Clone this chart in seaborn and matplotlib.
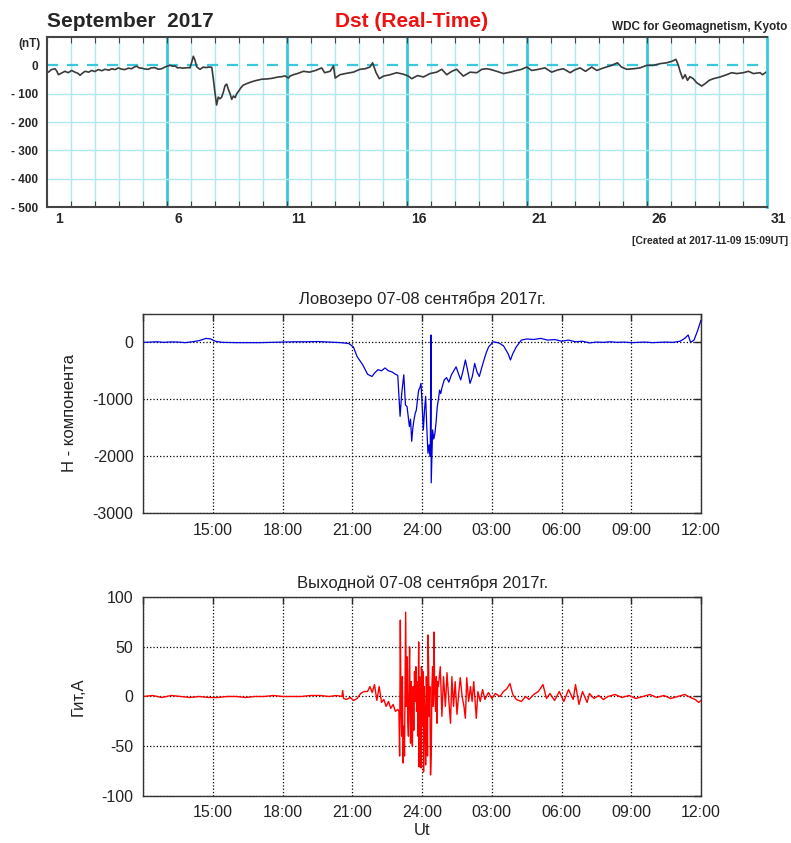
import seaborn as sns
import matplotlib.pyplot as plt
import matplotlib.transforms as mtransforms

# Dst (real-time), September 2017: time in days from Sep 1 00UT, value in nT
DST_DAY = [0.00, 0.07, 0.20, 0.35, 0.42, 0.49, 0.60, 0.76, 0.90, 1.04, 1.18, 1.30, 1.39,
           1.50, 1.60, 1.75, 1.88, 2.00, 2.15, 2.30, 2.43, 2.60, 2.71, 2.85, 2.99, 3.10,
           3.26, 3.40, 3.54, 3.65, 3.75, 3.85, 3.96, 4.10, 4.24, 4.35, 4.51, 4.65, 4.79,
           4.93, 5.05, 5.14, 5.25, 5.35, 5.45, 5.56, 5.66, 5.76, 5.90, 5.97, 6.04, 6.11,
           6.18, 6.25, 6.32, 6.39, 6.46, 6.53, 6.63, 6.74, 6.88, 6.94, 7.01, 7.08, 7.15,
           7.22, 7.29, 7.36, 7.43, 7.50, 7.57, 7.64, 7.71, 7.78, 7.85, 7.92, 7.99, 8.10,
           8.19, 8.35, 8.54, 8.75, 8.96, 9.17, 9.38, 9.65, 9.80, 9.93, 10.07, 10.14, 10.28,
           10.45, 10.70, 10.95, 11.20, 11.46, 11.58, 11.81, 11.95, 12.02, 12.22, 12.50,
           12.78, 13.05, 13.27, 13.47, 13.58, 13.72, 13.86, 14.03, 14.31, 14.58, 14.85,
           15.07, 15.21, 15.45, 15.70, 15.97, 16.25, 16.46, 16.67, 16.88, 17.08, 17.36,
           17.64, 17.92, 18.13, 18.33, 18.47, 18.75, 19.03, 19.31, 19.58, 19.79, 20.00,
           20.21, 20.49, 20.76, 21.04, 21.30, 21.53, 21.81, 22.00, 22.22, 22.45, 22.71,
           22.92, 23.20, 23.54, 23.78, 23.95, 24.17, 24.45, 24.72, 25.00, 25.28, 25.56,
           25.83, 26.04, 26.22, 26.32, 26.39, 26.50, 26.60, 26.70, 26.80, 26.94, 27.08,
           27.29, 27.43, 27.60, 27.78, 28.06, 28.33, 28.54, 28.75, 29.03, 29.24, 29.44,
           29.72, 29.83, 29.97]
DST_NT = [-25, -24, -15, -12, -20, -33, -28, -21, -26, -18, -24, -28, -35,
          -27, -21, -24, -18, -22, -15, -19, -14, -17, -12, -15, -9, -13,
          -15, -10, -12, -6, -3, -9, -10, -13, -14, -9, -8, -14, -12,
          -6, -2, 0, -3, -2, -9, -8, -10, -9, -8, -9, 10, 32,
          18, -5, -10, -14, -10, -6, -8, -6, -7, -45, -95, -140, -112,
          -118, -112, -95, -72, -66, -85, -100, -120, -108, -114, -100, -92, -78,
          -70, -64, -58, -53, -49, -48, -46, -41, -40, -37, -45, -38, -33,
          -29, -21, -24, -18, -9, -26, -21, -2, -45, -33, -28,
          -24, -14, -12, -6, 9, -25, -47, -38, -33, -26, -31,
          -38, -47, -36, -41, -29, -24, -14, -33, -21, -14, -38,
          -24, -26, -14, -12, -14, -21, -29, -24, -18, -14, -6,
          -18, -14, -9, -24, -16, -12, -26, -16, -9, -21, -6,
          -18, -9, 0, 9, -6, -14, -12, -9, 0, 0, 6,
          9, 14, 21, 0, -21, -47, -33, -53, -40, -47, -61,
          -73, -65, -53, -47, -41, -33, -26, -29, -26, -21, -29,
          -26, -33, -24]
DAY_LABELS = ["1", "6", "11", "16", "21", "26", "31"]
DAY_LABEL_POS = [0.5, 5.5, 10.5, 15.5, 20.5, 25.5, 30.5]

# Lovozero H-component, 07-08 Sept 2017 (hours from Sep 7 00UT)
LOV_HOUR = [12.00, 12.30, 12.60, 12.90, 13.20, 13.50, 13.80, 14.10, 14.40, 14.70, 14.90,
            15.10, 15.40, 16.00, 16.50, 17.00, 17.50, 18.00, 18.50, 19.00, 19.50, 20.00,
            20.50, 20.84, 21.04, 21.20, 21.45, 21.65, 21.84, 21.95, 22.10, 22.25, 22.40,
            22.55, 22.70, 22.85, 22.95, 23.05, 23.12, 23.21, 23.28, 23.35, 23.40, 23.45,
            23.50, 23.55, 23.60, 23.65, 23.70, 23.75, 23.80, 23.85, 23.90, 23.95, 24.00,
            24.05, 24.10, 24.15, 24.20, 24.25, 24.30, 24.35, 24.38, 24.39, 24.42, 24.45,
            24.50, 24.55, 24.60, 24.65, 24.70, 24.75, 24.80, 24.85, 24.95, 25.05, 25.15,
            25.26, 25.36, 25.46, 25.56, 25.66, 25.76, 25.86, 25.96, 26.06, 26.16, 26.26,
            26.36, 26.46, 26.56, 26.66, 26.76, 26.86, 27.06, 27.30, 27.50, 27.70, 27.80,
            27.90, 28.05, 28.27, 28.50, 28.80, 29.10, 29.40, 29.70, 30.00, 30.30, 30.60,
            30.90, 31.20, 31.50, 31.80, 32.10, 32.40, 32.70, 33.00, 33.30, 33.60, 33.90,
            34.20, 34.50, 34.80, 35.10, 35.30, 35.45, 35.55, 35.70, 35.85, 36.00]
LOV_H = [0, 5, 10, 0, 8, 5, -5, 10, 30, 70, 60,
         20, 0, -5, -5, -5, 0, 5, 10, 10, 15, 5,
         -5, -20, -80, -250, -400, -560, -600, -540, -480, -500, -450,
         -500, -520, -560, -580, -1300, -900, -570, -1100, -1130, -1300, -1480,
         -1350, -1740, -1500, -1360, -1250, -1190, -1000, -840, -800, -720, -1100,
         -1540, -1200, -950, -1500, -1950, -1800, -2000, 130, -2470, -2000, -1540,
         -1700, -1600, -1400, -1130, -1000, -840, -900, -800, -660, -620, -700,
         -570, -500, -430, -550, -660, -500, -310, -500, -720, -600, -370,
         -520, -600, -450, -310, -180, -80, 10, -10, -60, -200, -310,
         -200, -80, 40, 60, 50, 70, 40, 50, 20, 40, 10,
         20, -10, 5, 0, 10, 0, 5, -5, 0, 5, -5,
         0, 5, 0, 20, 70, 130, 0, 40, 200, 390]

# Output current (Гит), 07-08 Sept 2017
GIT_HOUR = [12.00, 12.40, 12.80, 13.20, 13.60, 14.00, 14.40, 14.80, 15.20, 15.60, 16.00,
            16.40, 16.80, 17.20, 17.60, 18.00, 18.40, 18.80, 19.20, 19.60, 20.00, 20.30,
            20.55, 20.58, 20.62, 20.75, 20.90, 21.05, 21.20, 21.35, 21.50, 21.65, 21.75,
            21.85, 21.95, 22.05, 22.15, 22.25, 22.35, 22.45, 22.55, 22.65, 22.75, 22.85,
            22.95,
            23.00, 23.03, 23.06, 23.09, 23.12, 23.15, 23.18, 23.21, 23.24, 23.27,
            23.29, 23.32, 23.35, 23.38, 23.41, 23.44, 23.46, 23.48, 23.50, 23.53,
            23.56, 23.58, 23.61, 23.64, 23.67, 23.70, 23.73, 23.76, 23.79, 23.82,
            23.85, 23.87, 23.89, 23.92, 23.95, 23.97, 24.00, 24.02, 24.04, 24.06,
            24.09, 24.12, 24.15, 24.18, 24.21, 24.23, 24.25, 24.28, 24.30, 24.33,
            24.36, 24.39, 24.42, 24.45, 24.48, 24.51, 24.54, 24.58, 24.61, 24.64,
            24.67, 24.70,
            24.78, 24.85, 24.92, 25.00, 25.07, 25.15, 25.22, 25.28, 25.35, 25.42, 25.50,
            25.58, 25.64, 25.72, 25.80, 25.86, 25.92, 26.00, 26.08, 26.15, 26.22, 26.28,
            26.33, 26.40, 26.50, 26.60, 26.70, 26.85, 27.00, 27.15, 27.35, 27.50, 27.65,
            27.78, 27.90, 28.05, 28.27, 28.45, 28.60, 28.80, 29.00, 29.20, 29.35, 29.50,
            29.70, 29.90, 30.10, 30.30, 30.50, 30.60, 30.75, 30.90, 31.10, 31.20, 31.40,
            31.60, 31.80, 32.00, 32.30, 32.60, 32.90, 33.20, 33.50, 33.80, 34.10, 34.40,
            34.70, 35.00, 35.30, 35.55, 35.75, 35.90, 36.00]
GIT_A = [0, 1, -1, 1, 0, -1, 0, -1, -1, 0, 0,
         -1, 0, 0, 1, 0, 0, 0, 1, 1, 0, 1,
         0, 6, -2, -3, -1, -4, -2, 3, 5, 5, 10,
         4, 12, -4, 10, -6, -3, -10, -5, -12, -8, -15,
         -13,
         -15, -60, 77, -10, -40, 20, -67, -30, -60, 20,
         85, -10, 40, -25, -40, 25, 50, -10, -47, 15,
         -30, -50, 10, -34, 25, -5, 30, -15, 15, -40,
         55, -71, 20, -20, -72, 30, -10, -30, 25, -76,
         10, -20, -69, 20, -15, -60, 62, 30, -20, 10,
         -79, -60, 10, 30, -10, 65, 5, -15, 20, -27,
         15, 10,
         30, -20, 20, -10, 24, -5, -27, 20, -10, 15, -18,
         5, 19, 0, -10, -22, 19, -5, 10, -5, 15, -5,
         -22, 5, -5, 7, -3, 4, -2, 3, 0, 5, 8,
         13, 2, -3, -5, 0, -3, 2, 5, 12, -2, 3,
         -4, 5, -5, 7, -3, 12, -8, 5, -6, 3, -2,
         1, -3, 0, 2, -1, 1, -2, 0, 2, -1, 1,
         -2, 0, 2, -1, -3, -6, -4]

HOUR_TICKS = [12, 15, 18, 21, 24, 27, 30, 33, 36]
HOUR_LABELS = ["", "15:00", "18:00", "21:00", "24:00", "03:00", "06:00", "09:00", "12:00"]

sns.set_style("white")
plt.rcParams['font.family'] = ['Liberation Sans', 'DejaVu Sans']
plt.rcParams['axes.unicode_minus'] = False

fig = plt.figure(figsize=(7.91, 8.43), dpi=100)

# ---- Dst panel ----
ax0 = fig.add_axes([0.059, 0.7544, 0.9103, 0.2017])
light = '#aee9ef'
strong = '#3cc8dc'
for d in range(1, 30):
    ax0.axvline(d, color=light, lw=1.0, zorder=0)
for d in range(5, 30, 5):
    ax0.axvline(d, color=strong, lw=2.0, zorder=0)
for v in range(-400, 0, 100):
    ax0.axhline(v, color=light, lw=1.0, zorder=0)
ax0.axhline(0, color=strong, lw=1.6, ls=(0, (5, 4)), zorder=0)
sns.lineplot(x=DST_DAY, y=DST_NT, ax=ax0, color='#3a3a3a', lw=1.2,
             estimator=None, sort=False)
ax0.set_xlim(0, 30)
ax0.set_ylim(-500, 100)
ax0.set_xticks(range(0, 31))
ax0.set_xticklabels([])
ax0.set_yticks([0, -100, -200, -300, -400, -500])
ax0.set_yticklabels(["0", "- 100", "- 200", "- 300", "- 400", "- 500"],
                    fontsize=8.5, fontweight='bold')
ax0.tick_params(axis='x', direction='in', length=4, top=True, bottom=True, color='#444')
ax0.tick_params(axis='y', direction='in', length=0, pad=6)
for side in ['left', 'top', 'bottom']:
    ax0.spines[side].set_color('#444')
    ax0.spines[side].set_linewidth(1.5)
ax0.spines['right'].set_color(strong)
ax0.spines['right'].set_linewidth(2.0)
blend = mtransforms.blended_transform_factory(ax0.transData, ax0.transAxes)
for pos, lab in zip(DAY_LABEL_POS, DAY_LABELS):
    ax0.text(pos, -0.07, lab, transform=blend, ha='center', va='center',
             fontsize=10, fontweight='bold', clip_on=False)
ax0.set_xlabel('')
ax0.set_ylabel('')

fig.text(0.0594, 0.974, "September  2017", fontsize=15, fontweight='bold',
         ha='left', va='center')
fig.text(0.520, 0.974, "Dst (Real-Time)", fontsize=15, fontweight='bold',
         color='#ee1111', ha='center', va='center')
fig.text(0.996, 0.968, "WDC for Geomagnetism, Kyoto", fontsize=8.5,
         fontweight='bold', ha='right', va='center')
fig.text(0.0373, 0.948, "(nT)", fontsize=8.5, fontweight='bold',
         ha='center', va='center')
fig.text(0.996, 0.714, "[Created at 2017-11-09 15:09UT]", fontsize=7.5,
         fontweight='bold', ha='right', va='center')


def style_matlab(ax, yticks, ylim):
    ax.set_xlim(12, 36)
    ax.set_ylim(*ylim)
    ax.set_xticks(HOUR_TICKS)
    ax.set_xticklabels(HOUR_LABELS)
    ax.set_yticks(yticks)
    ax.grid(True, ls=':', color='black', lw=0.9)
    ax.tick_params(direction='in', top=True, right=True, length=5, width=1,
                   labelsize=11.5, labelcolor='#222222', pad=7)
    for sp in ax.spines.values():
        sp.set_color('#333333')
        sp.set_linewidth(1.0)
    ax.set_xlabel('')


# ---- Lovozero panel ----
ax1 = fig.add_axes([0.1812, 0.3915, 0.7050, 0.2361])
sns.lineplot(x=LOV_HOUR, y=LOV_H, ax=ax1, color='#0000dd', lw=0.9,
             estimator=None, sort=False)
style_matlab(ax1, [-3000, -2000, -1000, 0], (-3000, 500))
ax1.set_title("Ловозеро 07-08 сентября 2017г.", fontsize=12, pad=7, color='#222222')
ax1.set_ylabel("H - компонента", fontsize=12, color='#222222')
ax1.yaxis.set_label_coords(-0.119, 0.5)

# ---- Output current panel ----
ax2 = fig.add_axes([0.1812, 0.0561, 0.7050, 0.2354])
sns.lineplot(x=GIT_HOUR, y=GIT_A, ax=ax2, color='#ff0000', lw=1.0,
             estimator=None, sort=False)
style_matlab(ax2, [-100, -50, 0, 50, 100], (-100, 100))
ax2.set_title("Выходной 07-08 сентября 2017г.", fontsize=12, pad=7, color='#222222')
ax2.set_ylabel("Гит,А", fontsize=12, color='#222222')
ax2.yaxis.set_label_coords(-0.103, 0.5)
ax2.set_xlabel("Ut", fontsize=12, color='#222222', labelpad=2)

fig.savefig("out.png", dpi=100)
